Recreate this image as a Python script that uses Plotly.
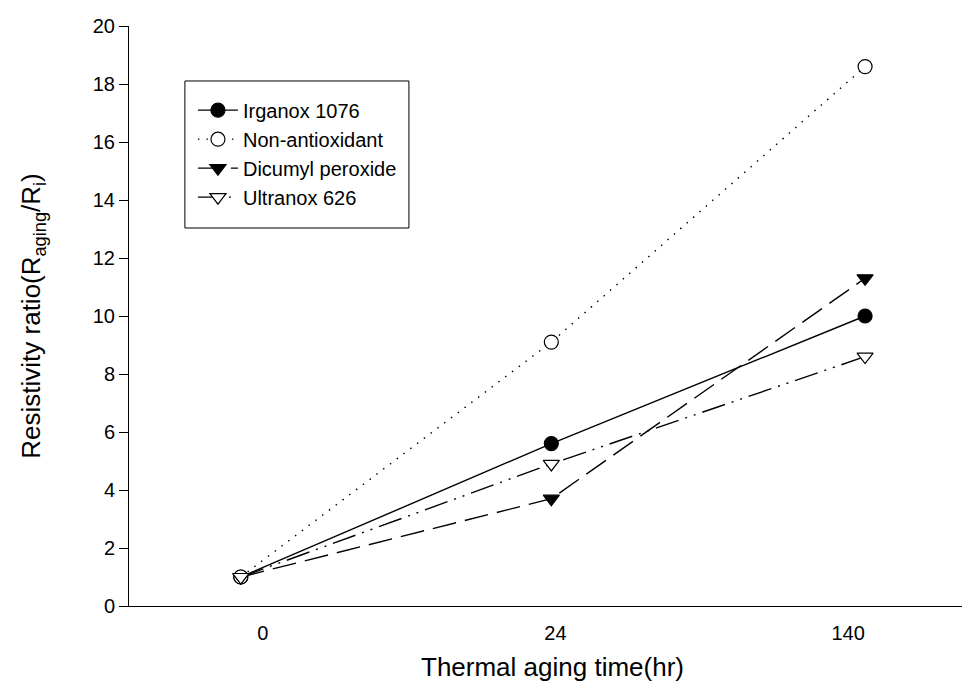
import plotly.graph_objects as go

# ---- data ----
tick_labels = ["0", "24", "140"]          # thermal aging time (hr)
tick_pos = [1, 2, 3]                      # axis positions of the tick labels
point_pos = [0.925, 1.986, 3.058]         # axis positions where the points are drawn

series_names = ["Irganox 1076", "Non-antioxidant", "Dicumyl peroxide", "Ultranox 626"]
irganox = [1.0, 5.6, 10.0]
non_antioxidant = [1.0, 9.1, 18.6]
dicumyl = [1.0, 3.7, 11.3]
ultranox = [1.0, 4.9, 8.6]

values = [irganox, non_antioxidant, dicumyl, ultranox]
symbols = ["circle", "circle", "triangle-down", "triangle-down"]
fills = ["black", "white", "black", "white"]
dashes = ["solid", "1.5px,7px", "24px,9px", "24px,7px,2px,7px,2px,7px"]

FONT = "Liberation Sans, Arial, sans-serif"

fig = go.Figure()
for name, y, sym, fill, dash in zip(series_names, values, symbols, fills, dashes):
    fig.add_trace(go.Scatter(
        x=point_pos, y=y, name=name, mode="lines+markers",
        line=dict(color="black", width=1.4, dash=dash),
        marker=dict(symbol=sym, size=14, color=fill,
                    line=dict(color="black", width=1.2)),
    ))

# legend frame (drawn as a box so it can have the roomier padding of the original)
fig.add_shape(type="rect", xref="paper", yref="paper",
              x0=0.066, x1=0.3305, y0=0.6517, y1=0.9052,
              line=dict(color="black", width=1), fillcolor="white", layer="below")

fig.update_layout(
    width=970, height=688,
    margin=dict(l=121, r=2, t=18, b=90),
    paper_bgcolor="white", plot_bgcolor="white",
    font=dict(family=FONT, color="black", size=20),
    showlegend=True,
    legend=dict(
        x=0.0755, y=0.8885, xanchor="left", yanchor="top",
        bgcolor="rgba(0,0,0,0)", borderwidth=0,
        font=dict(family=FONT, size=20, color="black"),
        tracegroupgap=0, itemwidth=40,
    ),
    xaxis=dict(
        range=[0.543, 3.437], tickvals=tick_pos, ticktext=tick_labels,
        ticks="", showline=True, linecolor="black", linewidth=1,
        showgrid=False, zeroline=False, ticklabelstandoff=9,
        tickfont=dict(size=20),
        title=dict(text="Thermal aging time(hr)", font=dict(size=26), standoff=14),
    ),
    yaxis=dict(
        range=[0, 20], dtick=2, ticks="outside", ticklen=9, tickcolor="black",
        showline=True, linecolor="black", linewidth=1,
        showgrid=False, zeroline=False, tickfont=dict(size=20),
        title=dict(text="Resistivity ratio(R<sub>aging</sub>/R<sub>i</sub>)",
                   font=dict(size=26), standoff=44),
    ),
)

fig.write_html("out.html")
